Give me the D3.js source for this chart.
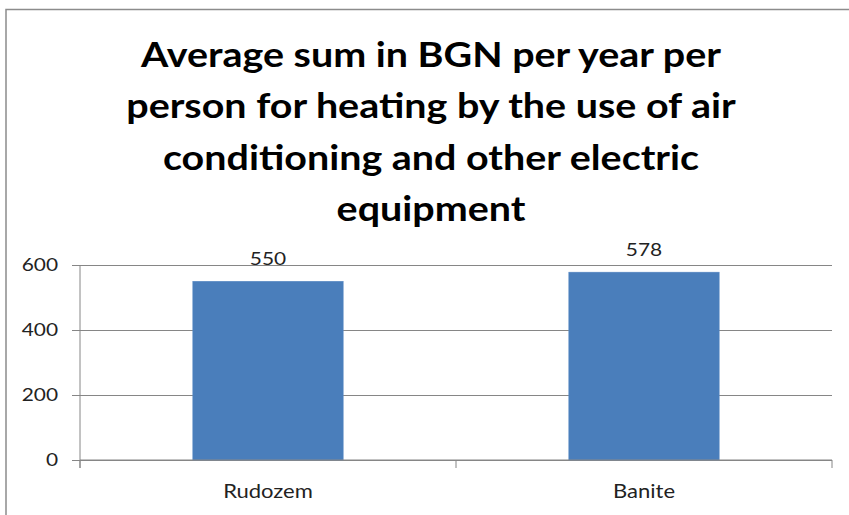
<!DOCTYPE html>
<html>
<head>
<meta charset="utf-8">
<script src="https://cdn.jsdelivr.net/npm/d3@7"></script>
<style>
  html, body { margin: 0; padding: 0; background: #fff; }
  svg { display: block; }
  text { font-family: Lato, "Open Sans", sans-serif; }
</style>
</head>
<body>
<div id="chart"></div>
<script>
// chart data
const categories = ["Rudozem", "Banite"];
const values = [550, 578];
const yTicks = [0, 200, 400, 600];
const titleLines = [
    "Average sum in BGN per year per",
    "person for heating by the use of air",
    "conditioning and other electric",
    "equipment"
];

const width = 849;
const height = 515;
const plot = { left: 80, right: 832, top: 265, bottom: 460 };
const stretch = 1.16; // the source picture is a bit wider than it is tall

// widen text horizontally around its anchor point
function stretchText(sel) {
    sel.each(function () {
        const t = d3.select(this);
        const x = +t.attr("x") || 0;
        const y = +t.attr("y") || 0;
        t.attr("x", 0).attr("y", 0)
            .attr("transform", `translate(${x},${y}) scale(${stretch},1)`);
    });
}

const svg = d3.select("#chart")
    .append("svg")
    .attr("width", width)
    .attr("height", height);

// outer chart border
svg.append("rect")
    .attr("x", 6)
    .attr("y", 9.5)
    .attr("width", width + 10)
    .attr("height", height + 10)
    .attr("fill", "#fff")
    .attr("stroke", "#8c8c8c")
    .attr("stroke-width", 1.5);

// title
svg.append("g")
    .selectAll("text")
    .data(titleLines)
    .join("text")
    .attr("x", 431)
    .attr("y", (d, i) => 67 + i * 51.3)
    .attr("text-anchor", "middle")
    .attr("font-size", 34)
    .attr("font-weight", "bold")
    .attr("fill", "#000")
    .text(d => d)
    .call(stretchText);

// scales
const xScale = d3.scaleBand()
    .domain(categories)
    .range([plot.left, plot.right])
    .padding(0);

const yScale = d3.scaleLinear()
    .domain([0, 600])
    .range([plot.bottom, plot.top]);

const barWidth = xScale.bandwidth() * 0.4;

// gridlines + y axis
const yAxis = svg.append("g")
    .attr("transform", `translate(${plot.left},0)`)
    .call(d3.axisLeft(yScale).tickValues(yTicks).tickSize(8).tickPadding(14));

yAxis.select(".domain").remove();
yAxis.selectAll(".tick line")
    .attr("x2", -8)
    .attr("stroke", "#868686");
yAxis.selectAll(".tick")
    .append("line")
    .attr("x1", 0)
    .attr("x2", plot.right - plot.left)
    .attr("stroke", "#868686");
yAxis.selectAll(".tick text")
    .attr("font-size", 18)
    .attr("font-family", "Lato, sans-serif")
    .attr("fill", "#222")
    .call(stretchText);

// vertical axis line
svg.append("line")
    .attr("x1", plot.left).attr("x2", plot.left)
    .attr("y1", plot.top).attr("y2", plot.bottom + 8)
    .attr("stroke", "#868686");

// bars
svg.append("g")
    .selectAll("rect")
    .data(categories)
    .join("rect")
    .attr("x", d => xScale(d) + (xScale.bandwidth() - barWidth) / 2)
    .attr("y", (d, i) => yScale(values[i]))
    .attr("width", barWidth)
    .attr("height", (d, i) => yScale(0) - yScale(values[i]))
    .attr("fill", "#4a7ebb")
    .attr("stroke", "#5b8bc6")
    .attr("stroke-width", 0.5);

// value labels
svg.append("g")
    .selectAll("text")
    .data(categories)
    .join("text")
    .attr("x", d => xScale(d) + xScale.bandwidth() / 2)
    .attr("y", (d, i) => yScale(values[i]) - 16)
    .attr("text-anchor", "middle")
    .attr("font-size", 18)
    .attr("fill", "#222")
    .text((d, i) => values[i])
    .call(stretchText);

// x axis with boundary ticks
const xAxisG = svg.append("g")
    .attr("transform", `translate(0,${plot.bottom})`);

xAxisG.append("line")
    .attr("x1", plot.left).attr("x2", plot.right)
    .attr("stroke", "#868686");

const boundaries = categories.map(d => xScale(d)).concat([plot.right]);
xAxisG.selectAll(".bound")
    .data(boundaries)
    .join("line")
    .attr("class", "bound")
    .attr("x1", d => d).attr("x2", d => d)
    .attr("y1", 0).attr("y2", 8)
    .attr("stroke", "#868686");

xAxisG.selectAll(".cat")
    .data(categories)
    .join("text")
    .attr("class", "cat")
    .attr("x", d => xScale(d) + xScale.bandwidth() / 2)
    .attr("y", 38)
    .attr("text-anchor", "middle")
    .attr("font-size", 19)
    .attr("fill", "#222")
    .text(d => d)
    .call(stretchText);
</script>
</body>
</html>
